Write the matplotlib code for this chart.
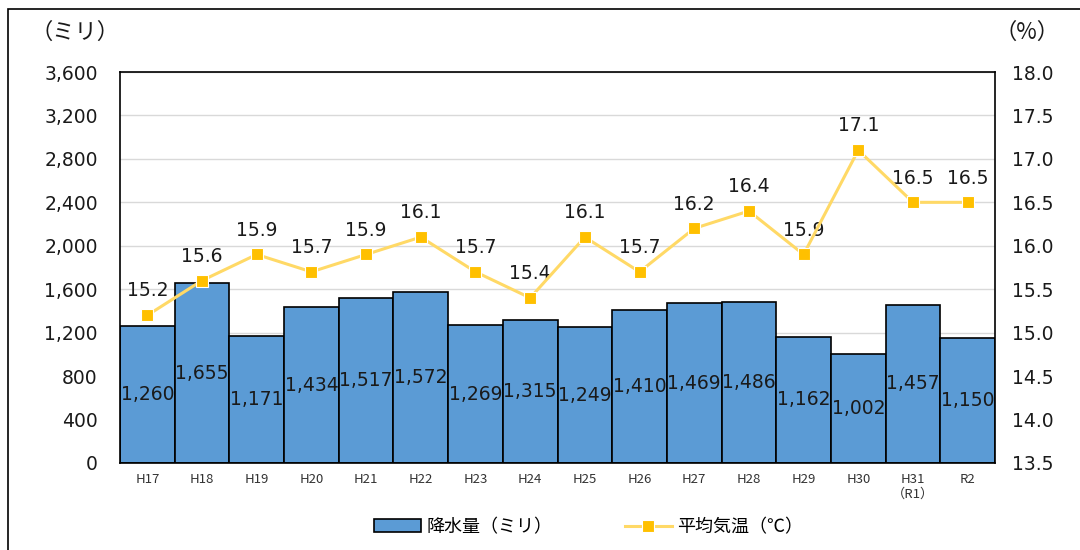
import matplotlib.pyplot as plt
from matplotlib.patches import Rectangle

plt.rcParams['font.family'] = ['Noto Sans CJK JP', 'DejaVu Sans']
num_font = ['DejaVu Sans', 'Noto Sans CJK JP']

years = ['H17', 'H18', 'H19', 'H20', 'H21', 'H22', 'H23', 'H24',
         'H25', 'H26', 'H27', 'H28', 'H29', 'H30', 'H31\n（R1）', 'R2']
rain = [1260, 1655, 1171, 1434, 1517, 1572, 1269, 1315,
        1249, 1410, 1469, 1486, 1162, 1002, 1457, 1150]
temp = [15.2, 15.6, 15.9, 15.7, 15.9, 16.1, 15.7, 15.4,
        16.1, 15.7, 16.2, 16.4, 15.9, 17.1, 16.5, 16.5]

fig = plt.figure(figsize=(10.8, 5.5), dpi=100)
ax = fig.add_axes([120 / 1080, 1 - 463 / 550, 875 / 1080, 391 / 550])
ax2 = ax.twinx()

x = list(range(len(years)))
bars = ax.bar(x, rain, width=1.0, color='#5B9BD5', edgecolor='black',
              linewidth=1.2, label='降水量（ミリ）', zorder=2)
# labels sit in the middle of each bar
for xi, v in zip(x, rain):
    ax.text(xi, v / 2, f'{v:,}', ha='center', va='center', fontsize=13.5,
            family=num_font, color='#1a1a1a', zorder=3)

ax.set_xlim(-0.5, len(years) - 0.5)
ax.set_ylim(0, 3600)
ax.set_yticks(range(0, 3601, 400))
ax.set_yticklabels([f'{v:,}' for v in range(0, 3601, 400)], fontsize=13.5,
                   family=num_font, color='#1a1a1a')
ax.set_xticks(x)
ax.set_xticklabels(years, fontsize=9.5, color='#333333', linespacing=1.25)
ax.tick_params(axis='both', length=0)
ax.tick_params(axis='y', pad=16)
ax.tick_params(axis='x', pad=7)
ax.grid(axis='y', color='#d9d9d9', linewidth=1, zorder=0)
ax.set_axisbelow(True)
for s in ax.spines.values():
    s.set_color('black')
    s.set_linewidth(1.2)

line, = ax2.plot(x, temp, color='#FFD966', linewidth=2.2, marker='s',
                 markersize=8.5, markerfacecolor='#FFC000',
                 markeredgecolor='white', markeredgewidth=0.8,
                 label='平均気温（℃）', zorder=4)
for xi, t in zip(x, temp):
    ax2.text(xi, t + 0.28, f'{t:.1f}', ha='center', va='center', fontsize=13.5,
             family=num_font, color='#1a1a1a')
ax2.set_ylim(13.5, 18.0)
ax2.set_yticks([13.5 + 0.5 * i for i in range(10)])
ax2.set_yticklabels([f'{13.5 + 0.5 * i:.1f}' for i in range(10)],
                    fontsize=13.5, family=num_font, color='#1a1a1a')
ax2.tick_params(axis='y', length=0, pad=12)
for s in ax2.spines.values():
    s.set_visible(False)

fig.text(30 / 1080, 1 - 32 / 550, '（ミリ）', fontsize=16, va='center',
         color='#1a1a1a')
fig.text(995 / 1080, 1 - 32 / 550, '（%）', fontsize=16, va='center',
         color='#1a1a1a')

fig.legend([bars, line], ['降水量（ミリ）', '平均気温（℃）'], loc='center',
           bbox_to_anchor=(0.545, 1 - 527 / 550), ncol=2, frameon=False,
           fontsize=13, handlelength=2.6, handletextpad=0.3, columnspacing=4)

fig.patches.append(Rectangle((8 / 1080, -0.01), 1.02, 1 - 9 / 550 + 0.01,
                             transform=fig.transFigure, fill=False,
                             edgecolor='black', linewidth=1.2))

fig.savefig('out.png', dpi=100)
